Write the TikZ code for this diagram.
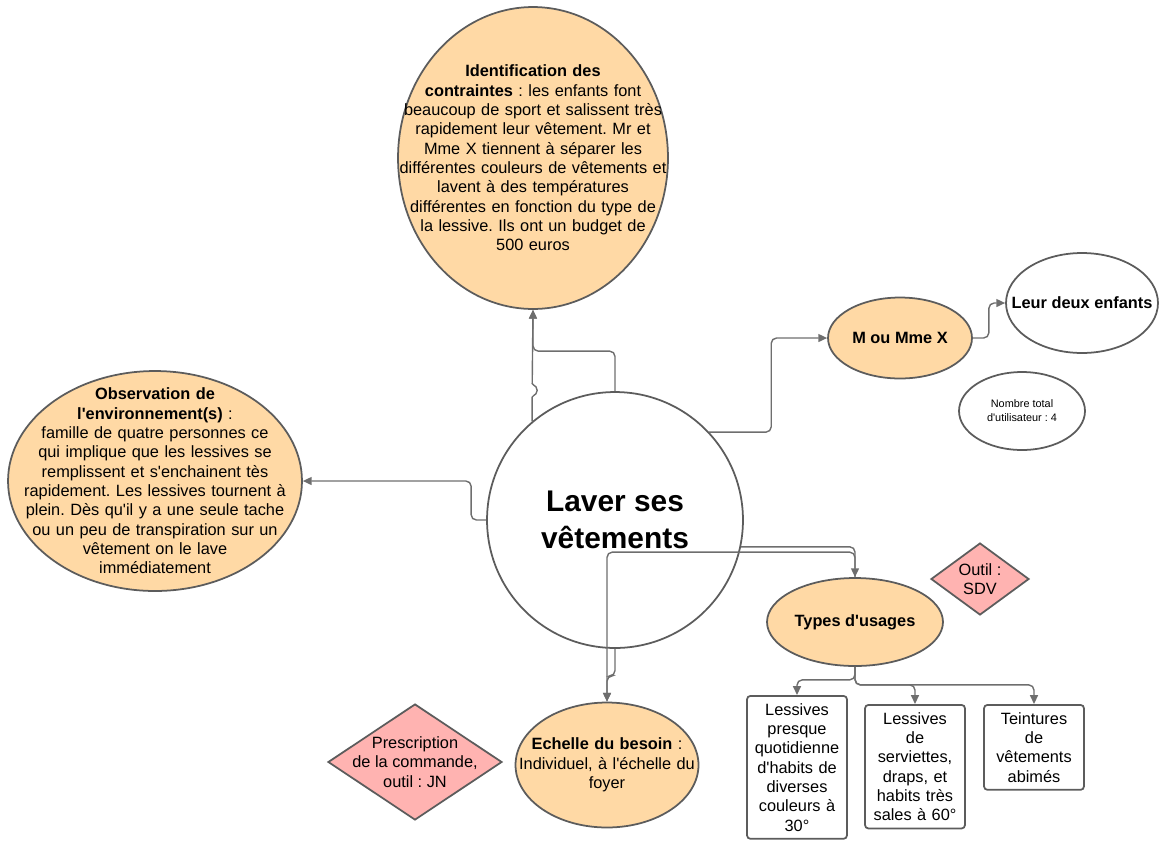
\documentclass[tikz,border=0pt]{standalone}
\usepackage{fontspec}
\setmainfont{Liberation Sans}
\usetikzlibrary{shapes.geometric,arrows.meta}
\definecolor{peach}{HTML}{FFD9A5}
\definecolor{rose}{HTML}{FFB3B1}
\definecolor{edgegray}{HTML}{5C5C5C}
\definecolor{linkgray}{HTML}{6E6E6E}
\newcommand\bodyfont{\fontsize{9.3}{11}\selectfont}
\newcommand\q{\textquotesingle}
\frenchspacing
\begin{document}
\begin{tikzpicture}[x=0.02cm,y=-0.02cm,->,>={Triangle[length=5pt,width=4.5pt]},
        main node/.style={ellipse,draw=edgegray,line width=1pt,inner sep=-1cm,align=center,font=\bodyfont},
        idea node/.style={main node,fill=peach},
        white node/.style={main node,fill=white},
        hub node/.style={circle,draw=edgegray,line width=1pt,fill=white,minimum size=5.12cm,inner sep=0pt,align=center,font=\fontsize{17}{21}\selectfont\bfseries},
        tool node/.style={diamond,draw=edgegray,line width=1pt,fill=rose,inner sep=-1cm,align=center,font=\bodyfont},
        case node/.style={rectangle,rounded corners=2pt,draw=edgegray,line width=1pt,fill=white,text width=1.72cm,inner xsep=0.14cm,inner ysep=0.15cm,align=center,anchor=north,font=\bodyfont},
        link/.style={draw=linkgray,line width=0.8pt,rounded corners=3pt}]
                \useasboundingbox (0,0) rectangle (1159,846);

                \node[hub node] (laver) at (615,520) {Laver ses\\vêtements};
                \node[idea node,minimum width=5.4cm,minimum height=6.04cm,text width=5.4cm] (contraintes) at (533,158) {\textbf{Identification des}\\\textbf{contraintes} : les enfants font\\beaucoup de sport et salissent très\\rapidement leur vêtement. Mr et\\Mme X tiennent à séparer les\\différentes couleurs de vêtements et\\lavent à des températures\\différentes en fonction du type de\\la lessive. Ils ont un budget de\\500 euros};
                \node[idea node,minimum width=5.88cm,minimum height=4.4cm,text width=5.3cm] (environnement) at (155,481) {\textbf{Observation de}\\\textbf{l\q environnement(s)} :\\famille de quatre personnes ce\\qui implique que les lessives se\\remplissent et s\q enchainent tès\\rapidement. Les lessives tournent à\\plein. Dès qu\q il y a une seule tache\\ou un peu de transpiration sur un\\vêtement on le lave\\immédiatement};
                \node[idea node,minimum width=2.88cm,minimum height=1.62cm] (parents) at (900,338) {\textbf{M ou Mme X}};
                \node[white node,minimum width=3.04cm,minimum height=2cm] (enfants) at (1082,303) {\textbf{Leur deux enfants}};
                \node[white node,minimum width=2.52cm,minimum height=1.56cm,font=\fontsize{6.2}{8}\selectfont] (total) at (1022,411) {Nombre total\\d\q utilisateur : 4};
                \node[idea node,minimum width=3.52cm,minimum height=1.76cm] (usages) at (855,622) {\textbf{Types d\q usages}};
                \node[idea node,minimum width=3.66cm,minimum height=2.5cm,text width=3.8cm] (echelle) at (607,765) {\textbf{Echelle du besoin} :\\Individuel, à l\q échelle du\\foyer};
                \node[tool node,minimum width=3.48cm,minimum height=2.32cm] (prescription) at (415,762) {Prescription\\de la commande,\\outil : JN};
                \node[tool node,minimum width=1.96cm,minimum height=1.44cm] (outil) at (980,579) {Outil :\\SDV};
                \node[case node] (cas1) at (797,695) {Lessives\\presque\\quotidienne\\d\q habits de\\diverses\\couleurs à\\30°};
                \node[case node] (cas2) at (915,704) {Lessives\\de\\serviettes,\\draps, et\\habits très\\sales à 60°};
                \node[case node] (cas3) at (1034,704) {Teintures\\de\\vêtements\\abimés};

                \draw[link,rounded corners=1pt] (laver.130) -- ++(0,-26) arc[start angle=-90,end angle=90,radius=0.1cm] -- (contraintes.south);
                \draw[link] (laver.north) -- ++(0,-40) -| (contraintes.south);
                \draw[link] (laver.west) -- ++(-15,0) |- (environnement.east);
                \draw[link] (laver.43) -- ++(62,0) |- (parents.west);
                \draw[link] (parents.east) -- ++(16,0) |- (enfants.west);
                \draw[link] (laver.-12) -| (usages.north);
                \draw[link] (usages.north) -- ++(0,-25) -| (echelle.north);
                \draw[link] (laver.south) -- ++(0,27) -| (echelle.north);
                \draw[link] (usages.south) -- ++(0,13) -| (cas1.north);
                \draw[link] (usages.south) -- ++(0,18) -| (cas2.north);
                \draw[link] (usages.south) -- ++(0,18) -| (cas3.north);
            \end{tikzpicture}
\end{document}
